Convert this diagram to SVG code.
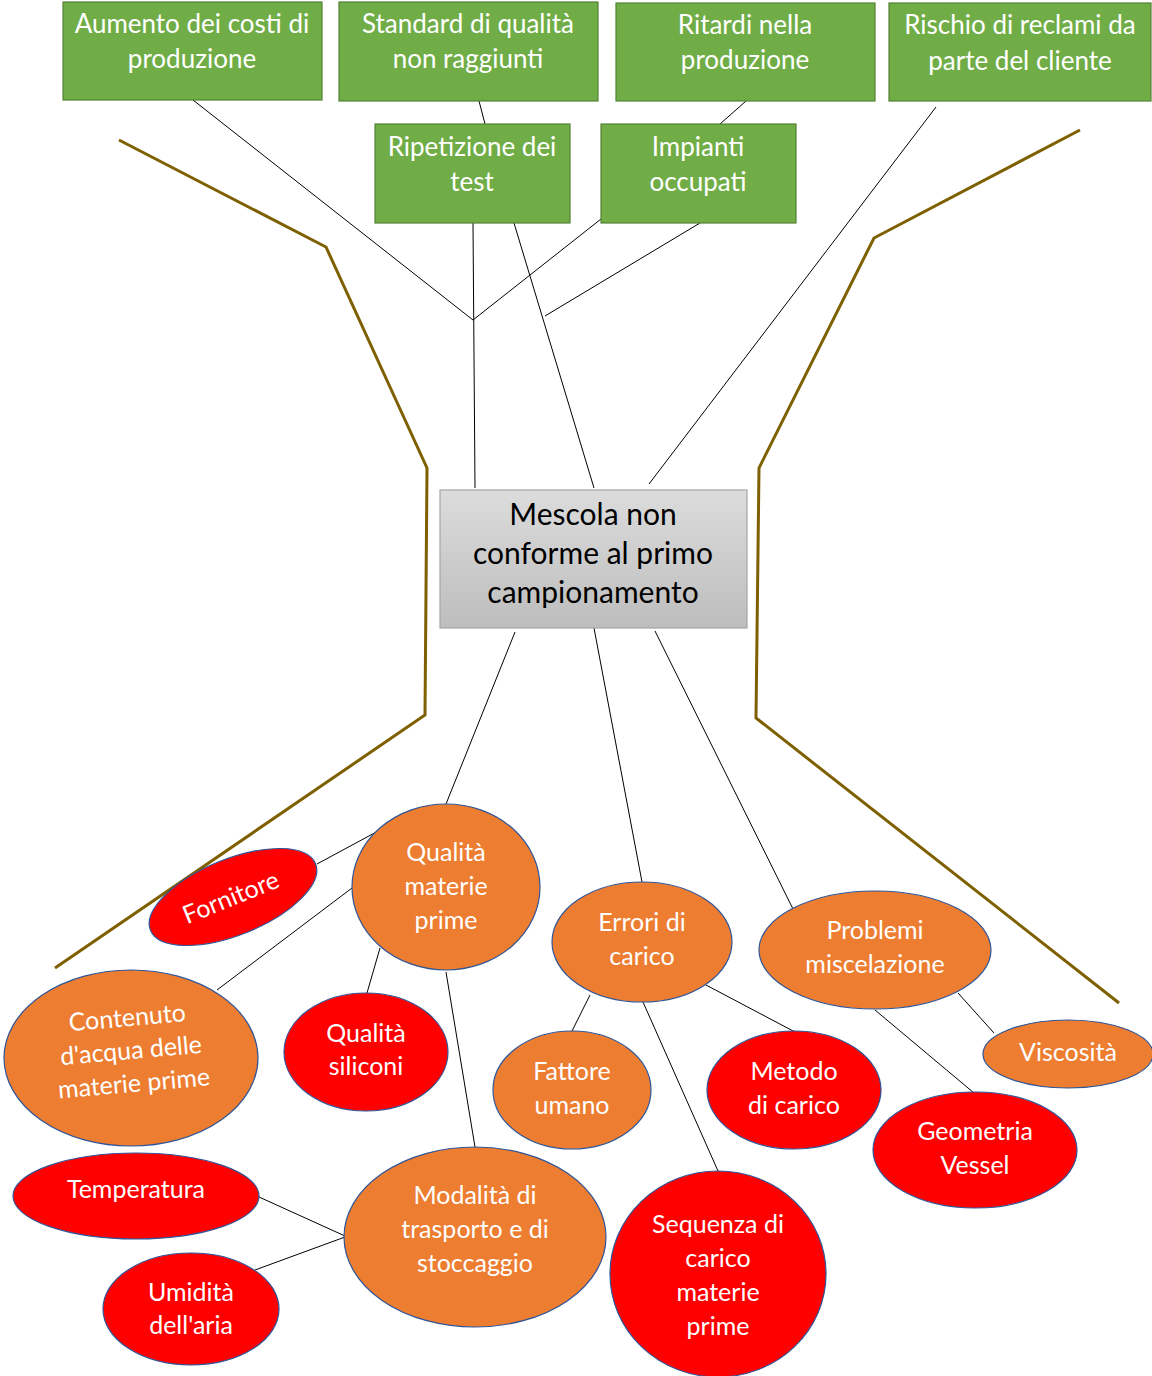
<svg xmlns="http://www.w3.org/2000/svg" width="1152" height="1376" viewBox="0 0 1152 1376">
  <defs>
    <linearGradient id="grayFill" x1="0" y1="0" x2="0" y2="1">
      <stop offset="0" stop-color="#DCDCDC"/>
      <stop offset="1" stop-color="#BDBDBD"/>
    </linearGradient>
    <style>
      .box { fill: #70AD47; stroke: #548235; stroke-width: 1.2; }
      .core { fill: url(#grayFill); stroke: #A5A5A5; stroke-width: 1.2; }
      .org { fill: #ED7D31; stroke: #2F5597; stroke-width: 1.2; }
      .red { fill: #FF0000; stroke: #2F5597; stroke-width: 1.2; }
      .lbl { font-family: Lato, "Liberation Sans", sans-serif; font-size: 25px; fill: #FFFFFF; text-anchor: middle; }
      .top { font-size: 26px; }
      .dark { fill: #000000; font-size: 30px; }
      .link { stroke: #000000; stroke-width: 1; fill: none; }
      .frame { stroke: #7F6000; stroke-width: 3; fill: none; stroke-linejoin: miter; }
    </style>
  </defs>
  <rect width="1152" height="1376" fill="#FFFFFF"/>

  <!-- outline of the tree -->
  <g id="frame">
    <polyline class="frame" points="119,140 326,247 427,468 425,715 55,968"/>
    <polyline class="frame" points="1080,130 874,238 759,468 756,718 1119,1003"/>
  </g>

  <!-- connectors -->
  <g id="connectors">
    <line class="link" x1="193" y1="100" x2="473" y2="320"/>
    <line class="link" x1="601" y1="219" x2="473" y2="320"/>
    <line class="link" x1="473" y1="223" x2="475" y2="488"/>
    <line class="link" x1="479" y1="101" x2="485" y2="124"/>
    <line class="link" x1="514" y1="223" x2="594" y2="488"/>
    <line class="link" x1="746" y1="101" x2="720" y2="124"/>
    <line class="link" x1="700" y1="223" x2="545" y2="316"/>
    <line class="link" x1="936" y1="107" x2="649" y2="484"/>
    <line class="link" x1="515" y1="632" x2="446" y2="804"/>
    <line class="link" x1="594" y1="628" x2="642" y2="882"/>
    <line class="link" x1="655" y1="631" x2="793" y2="909"/>
    <line class="link" x1="380" y1="830" x2="317" y2="864"/>
    <line class="link" x1="352" y1="888" x2="217" y2="990"/>
    <line class="link" x1="380" y1="948" x2="367" y2="993"/>
    <line class="link" x1="446" y1="972" x2="475" y2="1147"/>
    <line class="link" x1="590" y1="995" x2="572" y2="1031"/>
    <line class="link" x1="706" y1="985" x2="795" y2="1032"/>
    <line class="link" x1="643" y1="1002" x2="718" y2="1171"/>
    <line class="link" x1="958" y1="993" x2="994" y2="1033"/>
    <line class="link" x1="875" y1="1010" x2="974" y2="1093"/>
    <line class="link" x1="259" y1="1197" x2="345" y2="1236"/>
    <line class="link" x1="255" y1="1270" x2="345" y2="1237"/>
  </g>

  <!-- effects -->
  <g id="costi">
    <rect class="box" x="63" y="2" width="259" height="98"/>
    <text class="lbl top" x="192" y="33">Aumento dei costi di</text>
    <text class="lbl top" x="192" y="68">produzione</text>
  </g>
  <g id="standard">
    <rect class="box" x="339" y="2" width="259" height="99"/>
    <text class="lbl top" x="468" y="33">Standard di qualità</text>
    <text class="lbl top" x="468" y="68">non raggiunti</text>
  </g>
  <g id="ritardi">
    <rect class="box" x="616" y="3" width="259" height="98"/>
    <text class="lbl top" x="745" y="34">Ritardi nella</text>
    <text class="lbl top" x="745" y="69">produzione</text>
  </g>
  <g id="reclami">
    <rect class="box" x="889" y="3" width="262" height="98"/>
    <text class="lbl top" x="1020" y="34">Rischio di reclami da</text>
    <text class="lbl top" x="1020" y="70">parte del cliente</text>
  </g>
  <g id="ripetizione">
    <rect class="box" x="375" y="124" width="195" height="99"/>
    <text class="lbl top" x="472" y="156">Ripetizione dei</text>
    <text class="lbl top" x="472" y="191">test</text>
  </g>
  <g id="impianti">
    <rect class="box" x="601" y="124" width="195" height="99"/>
    <text class="lbl top" x="698" y="156">Impianti</text>
    <text class="lbl top" x="698" y="191">occupati</text>
  </g>

  <!-- problem -->
  <g id="problema">
    <rect class="core" x="440" y="490" width="307" height="138"/>
    <text class="lbl dark" x="593" y="525">Mescola non</text>
    <text class="lbl dark" x="593" y="564">conforme al primo</text>
    <text class="lbl dark" x="593" y="603">campionamento</text>
  </g>

  <!-- causes -->
  <g id="qualita-materie">
    <ellipse class="org" cx="446" cy="887" rx="94" ry="83"/>
    <text class="lbl" x="446" y="861">Qualità</text>
    <text class="lbl" x="446" y="895">materie</text>
    <text class="lbl" x="446" y="929">prime</text>
  </g>
  <g id="fornitore">
    <ellipse class="red" cx="233" cy="897" rx="89" ry="38" transform="rotate(-22 233 897)"/>
    <text class="lbl" x="231" y="906" transform="rotate(-22 231 898)">Fornitore</text>
  </g>
  <g id="contenuto">
    <ellipse class="org" cx="131" cy="1058" rx="127" ry="88"/>
    <g transform="rotate(-5 131 1050)">
      <text class="lbl" x="130" y="1026">Contenuto</text>
      <text class="lbl" x="131" y="1059">d'acqua delle</text>
      <text class="lbl" x="131" y="1092">materie prime</text>
    </g>
  </g>
  <g id="qualita-siliconi">
    <ellipse class="red" cx="366" cy="1052" rx="82" ry="59"/>
    <text class="lbl" x="366" y="1042">Qualità</text>
    <text class="lbl" x="366" y="1075">siliconi</text>
  </g>
  <g id="errori">
    <ellipse class="org" cx="642" cy="942" rx="90" ry="60"/>
    <text class="lbl" x="642" y="931">Errori di</text>
    <text class="lbl" x="642" y="965">carico</text>
  </g>
  <g id="miscelazione">
    <ellipse class="org" cx="875" cy="950" rx="116" ry="59"/>
    <text class="lbl" x="875" y="939">Problemi</text>
    <text class="lbl" x="875" y="973">miscelazione</text>
  </g>
  <g id="fattore">
    <ellipse class="org" cx="572" cy="1090" rx="79" ry="59"/>
    <text class="lbl" x="572" y="1080">Fattore</text>
    <text class="lbl" x="572" y="1114">umano</text>
  </g>
  <g id="metodo">
    <ellipse class="red" cx="794" cy="1090" rx="87" ry="59"/>
    <text class="lbl" x="794" y="1080">Metodo</text>
    <text class="lbl" x="794" y="1114">di carico</text>
  </g>
  <g id="viscosita">
    <ellipse class="org" cx="1068" cy="1054" rx="85" ry="34"/>
    <text class="lbl" x="1068" y="1061">Viscosità</text>
  </g>
  <g id="geometria">
    <ellipse class="red" cx="975" cy="1150" rx="102" ry="58"/>
    <text class="lbl" x="975" y="1140">Geometria</text>
    <text class="lbl" x="975" y="1174">Vessel</text>
  </g>
  <g id="temperatura">
    <ellipse class="red" cx="136" cy="1196" rx="123" ry="43"/>
    <text class="lbl" x="136" y="1198">Temperatura</text>
  </g>
  <g id="modalita">
    <ellipse class="org" cx="475" cy="1237" rx="131" ry="90"/>
    <text class="lbl" x="475" y="1204">Modalità di</text>
    <text class="lbl" x="475" y="1238">trasporto e di</text>
    <text class="lbl" x="475" y="1272">stoccaggio</text>
  </g>
  <g id="umidita">
    <ellipse class="red" cx="191" cy="1309" rx="88" ry="56"/>
    <text class="lbl" x="191" y="1301">Umidità</text>
    <text class="lbl" x="191" y="1334">dell'aria</text>
  </g>
  <g id="sequenza">
    <ellipse class="red" cx="718" cy="1274" rx="108" ry="103"/>
    <text class="lbl" x="718" y="1233">Sequenza di</text>
    <text class="lbl" x="718" y="1267">carico</text>
    <text class="lbl" x="718" y="1301">materie</text>
    <text class="lbl" x="718" y="1335">prime</text>
  </g>
</svg>
